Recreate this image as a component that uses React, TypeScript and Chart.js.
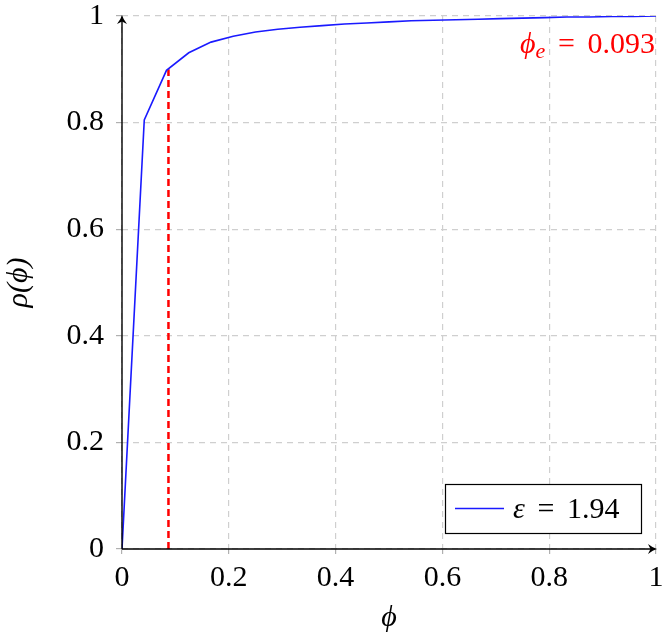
import React, { useEffect, useRef } from "react";
import { Chart, registerables } from "chart.js";

Chart.register(...registerables);

// ---- data ----
const PHI = [
  0, 0.0417, 0.0833, 0.125, 0.1667, 0.2083, 0.25, 0.2917, 0.3333, 0.375, 0.4167, 0.4583, 0.5,
  0.5417, 0.5833, 0.625, 0.6667, 0.7083, 0.75, 0.7917, 0.8333, 0.875, 0.9167, 0.9583, 1,
];
const RHO = [
  0, 0.805, 0.898, 0.931, 0.951, 0.962, 0.97, 0.975, 0.979, 0.982, 0.985, 0.987, 0.989,
  0.991, 0.992, 0.993, 0.994, 0.995, 0.996, 0.997, 0.998, 0.998, 0.999, 0.999, 1,
];
const PHI_E_X = [0.087, 0.087];
const PHI_E_Y = [0, 0.9];
const PHI_E_TEXT = "0.093";
const EPS_TEXT = "1.94";
const SERIES_LABEL = "ε = 1.94";
const X_TICKS = [0, 0.2, 0.4, 0.6, 0.8, 1];
const X_TICK_LABELS = ["0", "0.2", "0.4", "0.6", "0.8", "1"];
const Y_TICKS = [0, 0.2, 0.4, 0.6, 0.8, 1];
const Y_TICK_LABELS = ["0", "0.2", "0.4", "0.6", "0.8", "1"];

const FONT = "'Liberation Serif', 'DejaVu Serif', serif";
const FS = 30;

type Piece = { t: string; italic?: boolean; size?: number; dy?: number; gap?: number };

function pieceWidth(ctx: CanvasRenderingContext2D, p: Piece) {
  ctx.font = `${p.italic ? "italic " : ""}${p.size ?? FS}px ${FONT}`;
  return ctx.measureText(p.t).width + (p.gap ?? 0) * FS;
}

function drawMath(ctx: CanvasRenderingContext2D, pieces: Piece[], x: number, y: number, align: "left" | "right", color: string) {
  let total = 0;
  for (const p of pieces) total += pieceWidth(ctx, p);
  let cx = align === "left" ? x : x - total;
  ctx.fillStyle = color;
  ctx.textBaseline = "alphabetic";
  ctx.textAlign = "left";
  for (const p of pieces) {
    cx += (p.gap ?? 0) * FS;
    ctx.font = `${p.italic ? "italic " : ""}${p.size ?? FS}px ${FONT}`;
    ctx.fillText(p.t, cx, y + (p.dy ?? 0));
    cx += ctx.measureText(p.t).width;
  }
}

function arrowHead(ctx: CanvasRenderingContext2D, tx: number, ty: number, angle: number) {
  ctx.save();
  ctx.translate(tx, ty);
  ctx.rotate(angle);
  ctx.beginPath();
  ctx.moveTo(0, 0);
  ctx.quadraticCurveTo(-4, -1, -9, -5);
  ctx.lineTo(-6.5, 0);
  ctx.lineTo(-9, 5);
  ctx.quadraticCurveTo(-4, 1, 0, 0);
  ctx.closePath();
  ctx.fill();
  ctx.restore();
}

const overlay = {
  id: "overlay",
  afterDatasetsDraw(chart: any) {
    const { ctx, chartArea, scales } = chart;
    const xs = scales.x, ys = scales.y;
    const x0 = xs.getPixelForValue(0), x1 = xs.getPixelForValue(1);
    const y0 = ys.getPixelForValue(0), y1 = ys.getPixelForValue(1);
    ctx.save();
    ctx.strokeStyle = "#000";
    ctx.fillStyle = "#000";
    ctx.lineWidth = 1.4;
    ctx.beginPath();
    ctx.moveTo(x0, y0);
    ctx.lineTo(x1 - 4, y0);
    ctx.moveTo(x0, y0);
    ctx.lineTo(x0, y1 + 4);
    ctx.stroke();
    arrowHead(ctx, x1 + 1, y0, 0);
    arrowHead(ctx, x0, y1 - 1, -Math.PI / 2);

    // legend box
    const ds = chart.data.datasets[0];
    const bw = 196, bh = 49;
    const bx = chartArea.right - 15 - bw;
    const by = chartArea.bottom - 16 - bh;
    ctx.fillStyle = "#fff";
    ctx.fillRect(bx, by, bw, bh);
    ctx.strokeStyle = "#000";
    ctx.lineWidth = 1.2;
    ctx.strokeRect(bx + 0.5, by + 0.5, bw, bh);
    const my = by + bh / 2;
    ctx.strokeStyle = ds.borderColor;
    ctx.lineWidth = 1.5;
    ctx.beginPath();
    ctx.moveTo(bx + 10, my);
    ctx.lineTo(bx + 59, my);
    ctx.stroke();
    drawMath(
      ctx,
      [
        { t: "ε", italic: true },
        { t: "=", gap: 0.42 },
        { t: EPS_TEXT, gap: 0.42 },
      ],
      bx + 68,
      my + 9,
      "left",
      "#000"
    );

    // phi_e label
    drawMath(
      ctx,
      [
        { t: "ϕ", italic: true },
        { t: "e", italic: true, size: 22, dy: 5 },
        { t: "=", gap: 0.42 },
        { t: PHI_E_TEXT, gap: 0.42 },
      ],
      chartArea.right - 1,
      chartArea.top + 37,
      "right",
      "#ff0000"
    );
    ctx.restore();
  },
};

export default function App() {
  const ref = useRef<HTMLCanvasElement | null>(null);
  useEffect(() => {
    if (!ref.current) return;
    const chart = new Chart(ref.current, {
      type: "scatter",
      data: {
        datasets: [
          {
            label: SERIES_LABEL,
            data: PHI.map((x, i) => ({ x, y: RHO[i] })),
            showLine: true,
            borderColor: "#1a1aff",
            backgroundColor: "#1a1aff",
            borderWidth: 1.6,
            pointRadius: 0,
            tension: 0,
            order: 1,
          },
          {
            label: "phi_e",
            data: PHI_E_X.map((x, i) => ({ x, y: PHI_E_Y[i] })),
            showLine: true,
            borderColor: "#ff0000",
            borderWidth: 2.5,
            borderDash: [7, 4],
            pointRadius: 0,
            order: 2,
          },
        ],
      },
      options: {
        responsive: false,
        animation: false,
        devicePixelRatio: 1,
        layout: { padding: { top: 16, right: 10, left: 0, bottom: 0 } },
        plugins: { legend: { display: false }, tooltip: { enabled: false } },
        scales: {
          x: {
            type: "linear",
            min: 0,
            max: 1,
            afterBuildTicks: (s: any) => {
              s.ticks = X_TICKS.map((v) => ({ value: v }));
            },
            afterFit: (s: any) => {
              s.height = 89;
              s.paddingLeft = 0;
              s.paddingRight = 0;
            },
            ticks: {
              callback: (_v: any, i: number) => X_TICK_LABELS[i],
              font: { family: FONT, size: FS, lineHeight: 1 },
              color: "#000",
              padding: 9,
              maxRotation: 0,
            },
            grid: { color: "#cfcfcf", lineWidth: 1.2, tickLength: 5, tickColor: "#b0b0b0" },
            border: { display: false, dash: [6, 5] },
            title: {
              display: true,
              text: "ϕ",
              font: { family: FONT, size: FS, style: "italic", lineHeight: 1.2 },
              color: "#000",
              padding: { top: 0, bottom: 2 },
            },
          },
          y: {
            type: "linear",
            min: 0,
            max: 1,
            afterBuildTicks: (s: any) => {
              s.ticks = Y_TICKS.map((v) => ({ value: v }));
            },
            afterFit: (s: any) => {
              s.width = 122;
              s.paddingTop = 0;
              s.paddingBottom = 0;
            },
            ticks: {
              callback: (_v: any, i: number) => Y_TICK_LABELS[i],
              font: { family: FONT, size: FS, lineHeight: 1 },
              color: "#000",
              padding: 12,
            },
            grid: { color: "#cfcfcf", lineWidth: 1.2, tickLength: 6, tickColor: "#b0b0b0" },
            border: { display: false, dash: [6, 5] },
            title: {
              display: true,
              text: "ρ(ϕ)",
              font: { family: FONT, size: FS, style: "italic", lineHeight: 1.2 },
              color: "#000",
              padding: { top: 1, bottom: 0 },
            },
          },
        },
      },
      plugins: [overlay],
    });
    return () => chart.destroy();
  }, []);
  return (
    <div style={{ position: "absolute", left: 0, top: 0, width: 666, height: 638, background: "#fff" }}>
      <canvas ref={ref} width={666} height={638} />
    </div>
  );
}
